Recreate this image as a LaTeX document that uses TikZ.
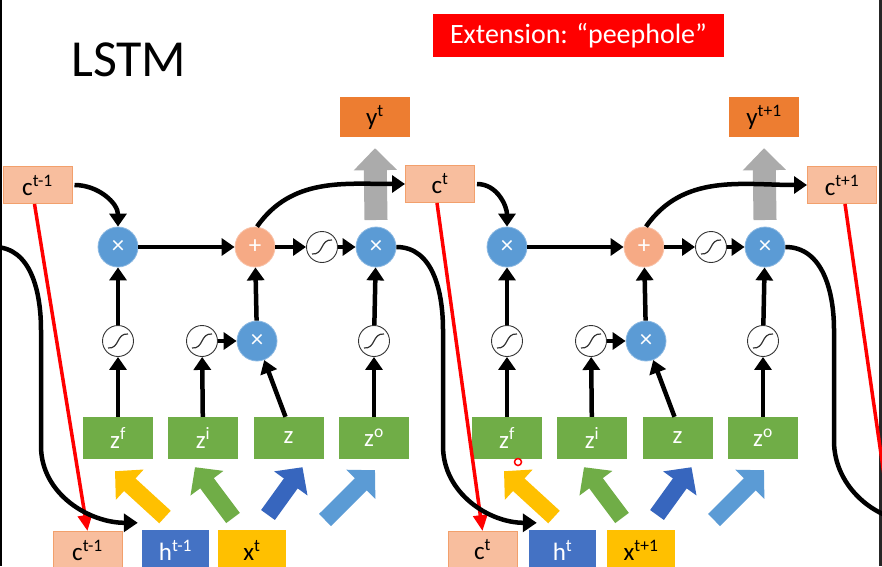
\documentclass[tikz,border=0pt]{standalone}
\usepackage{fontspec}
\setmainfont{Carlito}
\usetikzlibrary{arrows.meta}

\definecolor{cellfill}{HTML}{F8BE9E}
\definecolor{cellline}{HTML}{F2A06C}
\definecolor{outorange}{HTML}{ED7D31}
\definecolor{gatefill}{HTML}{70AD47}
\definecolor{hfill}{HTML}{4472C4}
\definecolor{xfill}{HTML}{FFC000}
\definecolor{opblue}{HTML}{5B9BD5}
\definecolor{addpeach}{HTML}{F6AA85}
\definecolor{darkblue}{HTML}{3766BE}
\definecolor{arrowgray}{HTML}{ABABAB}

\tikzset{
  lbl/.style={font=\fontsize{25}{28}\selectfont, inner sep=0pt},
  cbox/.style={lbl, fill=cellfill, draw=cellline, line width=1, minimum width=69, minimum height=37},
  outbox/.style={lbl, fill=outorange, minimum width=70, minimum height=40},
  gatebox/.style={lbl, fill=gatefill, text=white, minimum width=70, minimum height=42},
  hbox/.style={lbl, fill=hfill, text=white, minimum width=67, minimum height=40},
  xbox/.style={lbl, fill=xfill, minimum width=68, minimum height=40},
  mulop/.style={circle, fill=opblue, draw=opblue!70!white, line width=0.8, text=white,
                minimum size=40, inner sep=0pt, font=\fontsize{25}{25}\selectfont},
  addop/.style={mulop, fill=addpeach, draw=addpeach!70!white},
  sigop/.style={circle, draw=black!80, line width=0.9, fill=white, minimum size=31, inner sep=0pt,
    path picture={\draw[line width=1.2]
      ([shift={(-10pt,-7pt)}]path picture bounding box.center)
      .. controls ([shift={(2pt,-8pt)}]path picture bounding box.center)
      and ([shift={(-2pt,8pt)}]path picture bounding box.center)
      .. ([shift={(10pt,7pt)}]path picture bounding box.center);}},
  flow/.style={draw=black, line width=4.5, -{Triangle[length=13pt,width=17pt]}},
  carry/.style={draw=black, line width=4.5, -{Triangle[length=14pt,width=18pt]}},
  peep/.style={draw=red, line width=3.5, -{Triangle[length=16pt,width=14pt]}},
  fat/.style={line width=17, -{Triangle[length=20pt,width=40pt]}},
  upfat/.style={draw=arrowgray, line width=23, -{Triangle[length=22pt,width=42pt]}},
}

\begin{document}
\begin{tikzpicture}[x=1pt, y=1pt]
  \useasboundingbox (0,0) rectangle (882,566);
  \fill[white] (0,0) rectangle (882,566);
  \fill[black] (0,0) rectangle (2,566);
  \fill[black!85] (879,0) rectangle (882,566);

  % title and banner
  \node[anchor=base west, inner sep=0pt, font=\fontsize{52}{52}\selectfont] (title) at (71,489) {LSTM};
  \node[fill=red, text=white, minimum width=291, minimum height=43, inner sep=0pt,
        font=\fontsize{28}{28}\selectfont] (banner) at (578.5,530.5) {Extension: “peephole”};

  % cell states on top
  \node[cbox] (ct0) at (37.5,381) {c\textsuperscript{t-1}};
  \node[cbox] (ct1) at (440,382) {c\textsuperscript{t}};
  \node[cbox] (ct2) at (842,381) {c\textsuperscript{t+1}};

  % two time steps
  \foreach \k/\kn/\dx/\cx/\hx/\pc/\ph/\px in {0/1/0/87.5/175.5/t-1/t-1/t, 1/2/389/482.5/562.5/t/t/t+1} {
    \node[outbox] (yo\k) at (\dx+375,449) {y\textsuperscript{\px}};
    \draw[upfat] (\dx+376,346) -- ([yshift=-11]yo\k.south);

    \node[mulop] (fm\k) at (\dx+118,319) {×};
    \node[addop] (pl\k) at (\dx+255,319) {+};
    \node[sigop] (sg\k) at (\dx+322,319) {};
    \node[mulop] (om\k) at (\dx+376,319) {×};

    \node[sigop] (sf\k) at (\dx+118,225) {};
    \node[sigop] (si\k) at (\dx+202,225) {};
    \node[mulop] (im\k) at (\dx+257,225) {×};
    \node[sigop] (so\k) at (\dx+374,225) {};

    \node[gatebox] (zf\k) at (\dx+118,128) {z\textsuperscript{f}};
    \node[gatebox] (zi\k) at (\dx+203,128) {z\textsuperscript{i}};
    \node[gatebox] (zz\k) at (\dx+288.5,128) {z};
    \node[gatebox] (zo\k) at (\dx+374,128) {z\textsuperscript{o}};

    \node[cbox] (cb\k) at (\cx,16) {c\textsuperscript{\pc}};
    \node[hbox] (hb\k) at (\hx,16) {h\textsuperscript{\ph}};
    \node[xbox] (xb\k) at (\dx+252,16) {x\textsuperscript{\px}};

    % inputs into the gates
    \coordinate (ta\k) at (\dx+165,49);
    \coordinate (tb\k) at (\dx+233,48);
    \coordinate (tc\k) at (\dx+268,51);
    \coordinate (td\k) at (\dx+325,46);
    \draw[fat, xfill] (ta\k) -- ([shift={(-3,-12)}]zf\k.south);
    \draw[fat, gatefill] (tb\k) -- ([shift={(-8,-8)}]zi\k.south);
    \draw[fat, darkblue] (tc\k) -- ([shift={(14,-8)}]zz\k.south);
    \draw[fat, opblue] (td\k) -- ([shift={(1,-11)}]zo\k.south);

    \draw[flow] (zf\k) -- (sf\k);
    \draw[flow] (sf\k) -- (fm\k);
    \draw[flow] (zi\k) -- (si\k);
    \draw[flow] (si\k) -- (im\k);
    \draw[flow] ([xshift=-3]zz\k.north) -- (im\k);
    \draw[flow] (im\k) -- (pl\k);
    \draw[flow] (zo\k) -- (so\k);
    \draw[flow] (so\k) -- (om\k);
    \draw[flow] (fm\k) -- (pl\k);
    \draw[flow] (pl\k) -- (sg\k);
    \draw[flow] (sg\k) -- (om\k);
    \draw[flow] ([xshift=2]ct\k.east) to[out=0,in=90] (fm\k.north);
    \draw[flow] ([xshift=2]pl\k.north) to[out=55,in=180] (ct\kn.west);
    \draw[peep] ([xshift=-3]ct\k.south) -- (cb\k.north);
  }

  % recurrent paths
  \coordinate (hprev) at (-6,319);
  \coordinate (hnext) at (925,45);
  \coordinate (cnext) at (902,-34);
  \draw[carry] (hprev) to[out=0,in=90] (41,236) -- (41,120)
    to[out=-90,in=180] ([shift={(-4,7)}]hb0.north west);
  \draw[carry] (om0.east) to[out=0,in=90] (443,236) -- (443,120)
    to[out=-90,in=180] ([shift={(8,7)}]hb1.north west);
  \draw[carry] (om1.east) to[out=0,in=90] (834,236) -- (834,125)
    to[out=-90,in=180] (hnext);
  \draw[peep] ([xshift=3]ct2.south) -- (cnext);

  % pointer mark
  \draw[red, line width=1.5, fill=white] (518,104) circle (3.5);
\end{tikzpicture}
\end{document}
